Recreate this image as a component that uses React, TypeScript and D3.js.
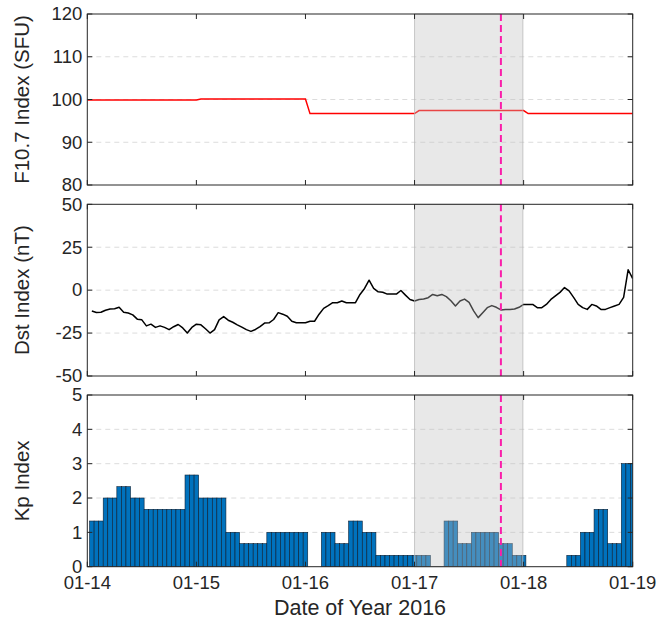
import React from "react";
import * as d3 from "d3";

// ---- data -------------------------------------------------------------
// Daily F10.7 solar flux (SFU), 2016-01-14 .. 2016-01-18
const f107Days = ["2016-01-14", "2016-01-15", "2016-01-16", "2016-01-17", "2016-01-18"];
const f107Values = [99.9, 100.1, 96.7, 97.4, 96.7];

// Hourly Dst (nT), first value at 2016-01-14 01:00 UT
const dstStart = "2016-01-14T01:00:00Z";
const dstValues = [
  -12.1, -13, -12.9, -11.7, -11, -10.8, -10, -12.9, -13.3, -14.4,
  -16.9, -17.3, -20.8, -19.8, -21.7, -20.8, -21.7, -23, -21.3, -20,
  -22, -25, -21.7, -19.8, -20.2, -22.5, -25, -23, -17.3, -15.4,
  -17.5, -18.7, -20.2, -21.5, -23, -24, -22.9, -21.2, -19.2, -19,
  -17.1, -13.1, -14, -15.2, -18.1, -19, -19, -19, -18.1, -18.1,
  -14, -10.6, -9, -7.3, -7.3, -6.3, -7.3, -7.3, -7.3, -2.5,
  1, 5.8, 1, -1, -1.2, -2.3, -2.3, -2.3, -0.2, -2.9,
  -5.4, -6.3, -5.4, -5.2, -4.4, -2.5, -3.3, -2.5, -3.8, -6.2,
  -9.2, -6.3, -5.2, -7.1, -12.1, -16, -13.1, -10.2, -9, -10,
  -11.5, -11.2, -11.2, -11, -10, -8.3, -8.3, -8.3, -10.2, -10.2,
  -8.3, -5.4, -3.3, -1.3, 1.5, -0.4, -4.2, -8.3, -10.2, -11.2,
  -8.3, -9.2, -11.2, -11.2, -10.2, -9.2, -8.3, -4.2, 11.9, 6.7,
];

// Three-hourly Kp, first interval 2016-01-14 00-03 UT
const kpValues = [
  1.33, 2, 2.33, 2, 1.67, 1.67, 1.67, 2.67, 2, 2,
  1, 0.67, 0.67, 1, 1, 1, 0, 1, 0.67, 1.33,
  1, 0.33, 0.33, 0.33, 0.33, 0, 1.33, 0.67, 1, 1,
  0.67, 0.33, 0, 0, 0, 0.33, 1, 1.67, 0.67, 3,
];

// Event window and marker
const eventStart = "2016-01-17T00:00:00Z";
const eventEnd = "2016-01-17T23:50:00Z";
const markerTime = "2016-01-17T19:00:00Z";

const xTickDates = ["2016-01-14", "2016-01-15", "2016-01-16", "2016-01-17", "2016-01-18", "2016-01-19"];
const f107Ticks = [80, 90, 100, 110, 120];
const dstTicks = [-50, -25, 0, 25, 50];
const kpTicks = [0, 1, 2, 3, 4, 5];

// ---- layout -----------------------------------------------------------
const W = 671;
const H = 622;
const left = 87.3;
const right = 632.7;
const panels = [
  { top: 14, bottom: 185 },
  { top: 204.3, bottom: 376 },
  { top: 395, bottom: 566.7 },
];
const HOUR = 3600 * 1000;
const axisColor = "#262626";
const tickFont = 18.5;
const labelFont = 20.5;
const xLabelFont = 21.5;
const fontFamily = "'Liberation Sans', Arial, Helvetica, sans-serif";

const utc = (s: string) => new Date(s.length === 10 ? s + "T00:00:00Z" : s);

const x = d3.scaleUtc().domain([utc("2016-01-14"), utc("2016-01-19")]).range([left, right]);

type PanelProps = {
  idx: number;
  y: d3.ScaleLinear<number, number>;
  ticks: number[];
  label: string;
  showX: boolean;
  children: React.ReactNode;
};

function Panel({ idx, y, ticks, label, showX, children }: PanelProps) {
  const { top, bottom } = panels[idx];
  const clipId = `clip-${idx}`;
  const x0 = x(utc(eventStart));
  const x1 = x(utc(eventEnd));
  const xm = x(utc(markerTime));
  const fmt = d3.utcFormat("%m-%d");
  return (
    <g>
      <defs>
        <clipPath id={clipId}>
          <rect x={left} y={top} width={right - left} height={bottom - top} />
        </clipPath>
      </defs>
      {/* horizontal dashed grid */}
      {ticks.slice(1, -1).map((t) => (
        <line key={t} x1={left} x2={right} y1={y(t)} y2={y(t)} stroke="#dcdcdc" strokeWidth={1} strokeDasharray="5,4" />
      ))}
      <g clipPath={`url(#${clipId})`}>{children}</g>
      {/* event window */}
      <rect
        x={x0}
        y={top}
        width={x1 - x0}
        height={bottom - top}
        fill="#bfbfbf"
        fillOpacity={0.36}
        stroke="#b4b4b4"
        strokeOpacity={0.7}
        strokeWidth={1}
      />
      {/* marker */}
      <line x1={xm} x2={xm} y1={top} y2={bottom} stroke="#fa1eaa" strokeWidth={2} strokeDasharray="7,4" />
      {/* box */}
      <rect x={left} y={top} width={right - left} height={bottom - top} fill="none" stroke={axisColor} strokeWidth={1} />
      {/* y ticks, both sides */}
      {ticks.map((t) => (
        <g key={t}>
          <line x1={left} x2={left + 5} y1={y(t)} y2={y(t)} stroke={axisColor} />
          <line x1={right} x2={right - 5} y1={y(t)} y2={y(t)} stroke={axisColor} />
          <text
            x={left - 5}
            y={y(t)}
            dy="0.34em"
            textAnchor="end"
            fontSize={tickFont}
            fontFamily={fontFamily}
            fill={axisColor}
          >
            {t}
          </text>
        </g>
      ))}
      {/* x ticks, top and bottom */}
      {xTickDates.map((s) => {
        const xx = x(utc(s));
        return (
          <g key={s}>
            <line x1={xx} x2={xx} y1={bottom} y2={bottom - 5} stroke={axisColor} />
            <line x1={xx} x2={xx} y1={top} y2={top + 5} stroke={axisColor} />
            {showX && (
              <text
                x={xx}
                y={bottom + 22.5}
                textAnchor="middle"
                fontSize={tickFont}
                fontFamily={fontFamily}
                fill={axisColor}
              >
                {fmt(utc(s))}
              </text>
            )}
          </g>
        );
      })}
      <text
        transform={`translate(29,${(top + bottom) / 2}) rotate(-90)`}
        textAnchor="middle"
        fontSize={labelFont}
        fontFamily={fontFamily}
        fill={axisColor}
      >
        {label}
      </text>
    </g>
  );
}

export default function App() {
  // F10.7: daily values held for the day, stepping within the first hour
  const f107Points: [Date, number][] = [];
  f107Days.forEach((d, i) => {
    const t0 = utc(d).getTime();
    f107Points.push([new Date(i === 0 ? t0 : t0 + HOUR), f107Values[i]]);
    f107Points.push([new Date(t0 + 24 * HOUR), f107Values[i]]);
  });
  const yF = d3.scaleLinear().domain([80, 120]).range([panels[0].bottom, panels[0].top]);
  const lineF = d3
    .line<[Date, number]>()
    .x((p) => x(p[0]))
    .y((p) => yF(p[1]));

  const dst0 = utc(dstStart).getTime();
  const dstPoints: [Date, number][] = dstValues.map((v, i) => [new Date(dst0 + i * HOUR), v]);
  const yD = d3.scaleLinear().domain([-50, 50]).range([panels[1].bottom, panels[1].top]);
  const lineD = d3
    .line<[Date, number]>()
    .x((p) => x(p[0]))
    .y((p) => yD(p[1]));

  // Kp: each 3-hour value drawn as three hourly bars centred on the hour
  const yK = d3.scaleLinear().domain([0, 5]).range([panels[2].bottom, panels[2].top]);
  const kpStart = utc("2016-01-14").getTime();
  const kpBars = kpValues.flatMap((v, i) =>
    [1, 2, 3].map((k) => {
      const c = kpStart + (i * 3 + k) * HOUR;
      return { x0: new Date(c - HOUR / 2), x1: new Date(c + HOUR / 2), v };
    })
  );

  return (
    <svg width={W} height={H} style={{ position: "absolute", left: 0, top: 0, background: "#fff" }}>
      <rect width={W} height={H} fill="#fff" />
      <Panel idx={0} y={yF} ticks={f107Ticks} label="F10.7 Index (SFU)" showX={false}>
        <path d={lineF(f107Points) ?? ""} fill="none" stroke="#ff0000" strokeWidth={1.5} />
      </Panel>
      <Panel idx={1} y={yD} ticks={dstTicks} label="Dst Index (nT)" showX={false}>
        <path d={lineD(dstPoints) ?? ""} fill="none" stroke="#000" strokeWidth={1.5} strokeLinejoin="round" />
      </Panel>
      <Panel idx={2} y={yK} ticks={kpTicks} label="Kp Index" showX={true}>
        {kpBars
          .filter((b) => b.v > 0)
          .map((b, i) => (
            <rect
              key={i}
              x={x(b.x0)}
              y={yK(b.v)}
              width={x(b.x1) - x(b.x0)}
              height={yK(0) - yK(b.v)}
              fill="#0072bd"
              stroke="#0b1f33"
              strokeWidth={0.6}
            />
          ))}
      </Panel>
      <text
        x={(left + right) / 2}
        y={615}
        textAnchor="middle"
        fontSize={xLabelFont}
        fontFamily={fontFamily}
        fill={axisColor}
      >
        Date of Year 2016
      </text>
    </svg>
  );
}
